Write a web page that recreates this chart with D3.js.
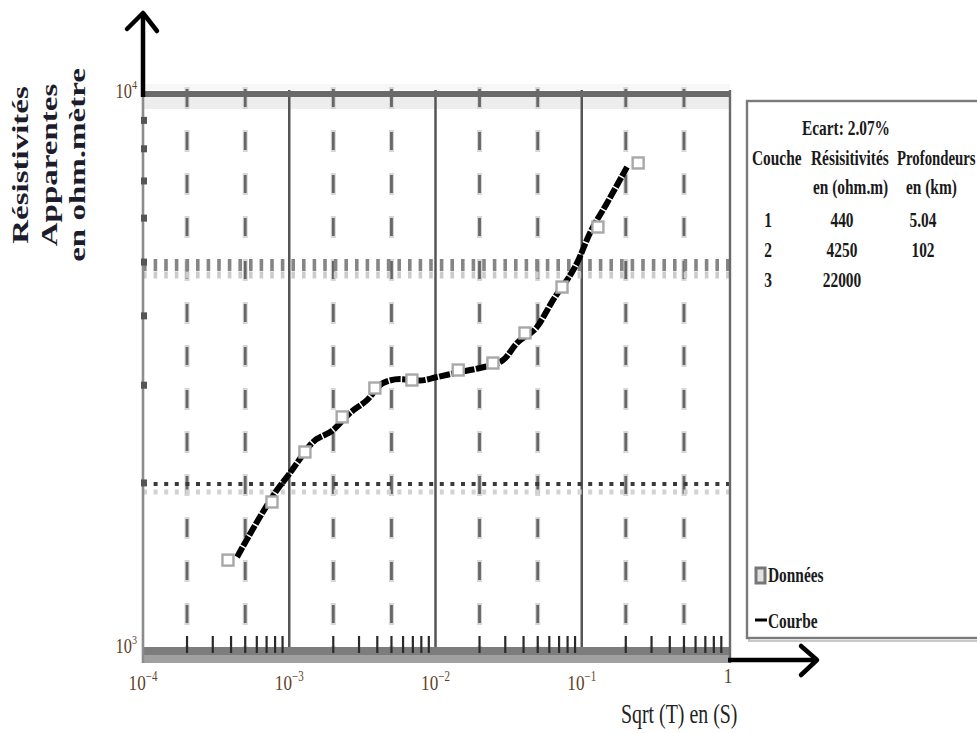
<!DOCTYPE html>
<html><head><meta charset="utf-8">
<script src="https://cdn.jsdelivr.net/npm/d3@7"></script>
<style>body{margin:0;background:#fff}svg{display:block}</style>
</head><body>
<svg id="c" width="977" height="733"></svg>
<script>
// ---- data ----
const dataX = [3.81e-4, 7.62e-4, 1.28e-3, 2.30e-3, 3.85e-3, 6.90e-3, 0.0143, 0.0247, 0.0409, 0.0733, 0.129, 0.243];
const dataY = [1452, 1848, 2274, 2630, 2965, 3065, 3195, 3289, 3726, 4508, 5783, 7543];
const curveX = [4.40e-4, 6.61e-4, 8.24e-4, 1.01e-3, 1.13e-3, 1.43e-3, 1.99e-3, 2.60e-3, 3.40e-3, 4.38e-3, 5.71e-3, 7.83e-3, 0.01023, 0.01473, 0.0201, 0.0290, 0.0361, 0.0494, 0.0636, 0.0929, 0.1138, 0.149, 0.204];
const curveY = [1471, 1773, 1942, 2084, 2172, 2360, 2490, 2673, 2820, 3027, 3077, 3060, 3103, 3170, 3222, 3330, 3574, 3819, 4270, 4983, 5640, 6390, 7418];
const xTickValues = [1e-4, 1e-3, 1e-2, 1e-1, 1];
const xTickBase = ["10", "10", "10", "10", "1"];
const xTickExp = ["\u22124", "\u22123", "\u22122", "\u22121", ""];
const yTickValues = [1e3, 1e4];
const yTickExp = ["3", "4"];
const dottedLevels = [2000, 5000];
const layers = ["1", "2", "3"];
const resistivities = ["440", "4250", "22000"];
const depths = ["5.04", "102", ""];
const ecartText = "Ecart: 2.07%";
const yTitle = ["Résistivités", "Apparentes", "en ohm.mètre"];
const xTitle = "Sqrt (T) en (S)";

// ---- drawing ----
const svg = d3.select("#c");
svg.append("rect").attr("width", 977).attr("height", 733).attr("fill", "#fff");
const x = d3.scaleLog().domain([1e-4, 1]).range([143, 728]);
const y = d3.scaleLog().domain([1e3, 1e4]).range([650, 95]);
const X0 = 143, X1 = 730;

const mant = v => Math.round(v / Math.pow(10, Math.floor(Math.log10(v) + 1e-9)));
const allX = x.ticks();

// top light bands
svg.append("rect").attr("x", X0).attr("y", 84).attr("width", X1 - X0).attr("height", 6).attr("fill", "#f7f7f7");
svg.append("rect").attr("x", X0).attr("y", 97).attr("width", X1 - X0).attr("height", 12).attr("fill", "#ededed");

// dashed verticals at 2 and 5
const dashV = allX.filter(v => { const m = mant(v); return m === 2 || m === 5; });
const g = svg.append("g");
g.selectAll(".dvu").data(dashV).join("line")
  .attr("x1", d => x(d)).attr("x2", d => x(d)).attr("y1", 87).attr("y2", 650)
  .attr("stroke", "#d6d6d6").attr("stroke-width", 5).attr("stroke-dasharray", "22,21");
g.selectAll(".dvc").data(dashV).join("line")
  .attr("x1", d => x(d)).attr("x2", d => x(d)).attr("y1", 89).attr("y2", 650)
  .attr("stroke", "#666").attr("stroke-width", 2.8).attr("stroke-dasharray", "18,25");

// solid decade lines
g.selectAll(".dec").data(xTickValues.slice(1, -1)).join("line")
  .attr("x1", d => x(d)).attr("x2", d => x(d)).attr("y1", 90).attr("y2", 650)
  .attr("stroke", "#555").attr("stroke-width", 2.5);

// horizontal dotted lines
const l5 = y(dottedLevels[1]), l2 = y(dottedLevels[0]);
svg.append("line").attr("x1", X0).attr("x2", X1).attr("y1", l5 + 3).attr("y2", l5 + 3)
  .attr("stroke", "#858585").attr("stroke-width", 12).attr("stroke-dasharray", "3.6,7");
svg.append("line").attr("x1", X0).attr("x2", X1).attr("y1", l5 + 13).attr("y2", l5 + 13)
  .attr("stroke", "#cbcbcb").attr("stroke-width", 7).attr("stroke-dasharray", "3.6,7");
svg.append("line").attr("x1", X0).attr("x2", X1).attr("y1", l2 + 1).attr("y2", l2 + 1)
  .attr("stroke", "#3a3a3a").attr("stroke-width", 4).attr("stroke-dasharray", "4,6.6");
svg.append("line").attr("x1", X0).attr("x2", X1).attr("y1", l2 + 9).attr("y2", l2 + 9)
  .attr("stroke", "#d2d2d2").attr("stroke-width", 5).attr("stroke-dasharray", "4,6.6");

// bottom band
svg.append("rect").attr("x", X0).attr("y", 647).attr("width", X1 - X0).attr("height", 8).attr("fill", "#7d7d7d");
svg.append("rect").attr("x", X0).attr("y", 655).attr("width", X1 - X0).attr("height", 8).attr("fill", "#a0a0a0");

// bottom minor ticks
svg.selectAll(".mt").data(allX.filter(v => mant(v) !== 1)).join("line")
  .attr("x1", d => x(d)).attr("x2", d => x(d)).attr("y1", 636).attr("y2", 653)
  .attr("stroke", "#2a2a2a").attr("stroke-width", 2.2);

// top dark line
svg.append("line").attr("x1", X0).attr("x2", X1).attr("y1", 94).attr("y2", 94)
  .attr("stroke", "#6a6a6a").attr("stroke-width", 6);

// left axis + minor ticks
svg.append("line").attr("x1", X0).attr("x2", X0).attr("y1", 95).attr("y2", 663)
  .attr("stroke", "#8c8c8c").attr("stroke-width", 2.6);
svg.selectAll(".yt").data(y.ticks().filter(v => v > 1e3 && v < 1e4)).join("rect")
  .attr("x", 141).attr("width", 6).attr("y", d => y(d) - 3.5).attr("height", 7).attr("fill", "#555");

// right border
svg.append("line").attr("x1", X1).attr("x2", X1).attr("y1", 90).attr("y2", 663)
  .attr("stroke", "#6a6a6a").attr("stroke-width", 2.4);

// curve
const pts = curveX.map((v, i) => [x(v), y(curveY[i])]);
svg.append("path").attr("d", d3.line().curve(d3.curveMonotoneX)(pts)).attr("fill", "none")
  .attr("stroke", "#000").attr("stroke-width", 6).attr("stroke-dasharray", "11,1.5");

// data squares
svg.selectAll(".sq").data(dataX.map((v, i) => [v, dataY[i]])).join("rect")
  .attr("x", d => x(d[0]) - 5.5).attr("y", d => y(d[1]) - 5.5).attr("width", 11).attr("height", 11)
  .attr("fill", "#fff").attr("stroke", "#a8a8a8").attr("stroke-width", 2.4);

// arrows
svg.append("line").attr("x1", X0).attr("x2", X0).attr("y1", 97).attr("y2", 14)
  .attr("stroke", "#000").attr("stroke-width", 4.5);
svg.append("polyline").attr("points", "127,29 143,13 157,31").attr("fill", "none")
  .attr("stroke", "#000").attr("stroke-width", 4.5).attr("stroke-linecap", "round").attr("stroke-linejoin", "round");
svg.append("line").attr("x1", 728).attr("x2", 817).attr("y1", 660).attr("y2", 660)
  .attr("stroke", "#000").attr("stroke-width", 4.5);
svg.append("polyline").attr("points", "801,646 817,660 801,675").attr("fill", "none")
  .attr("stroke", "#000").attr("stroke-width", 4.5).attr("stroke-linecap", "round").attr("stroke-linejoin", "round");

// x tick labels
const tickCol = "#5e3f1f";
xTickValues.forEach((v, i) => {
  const t = svg.append("text").attr("font-family", "Liberation Serif").attr("font-size", 22)
    .attr("fill", tickCol).attr("text-anchor", "middle")
    .attr("transform", `translate(${x(v)},${i === 4 ? 683 : 690}) scale(0.78,1)`);
  t.append("tspan").text(xTickBase[i]);
  if (xTickExp[i]) t.append("tspan").attr("font-size", 14).attr("dy", -9).text(xTickExp[i]);
});
// y tick labels
yTickValues.forEach((v, i) => {
  const t = svg.append("text").attr("font-family", "Liberation Serif").attr("font-size", 21)
    .attr("fill", tickCol).attr("text-anchor", "end")
    .attr("transform", `translate(137,${y(v) + (i === 0 ? 3 : 3)}) scale(0.78,1)`);
  t.append("tspan").text("10");
  t.append("tspan").attr("font-size", 13).attr("dy", -9).text(yTickExp[i]);
});

// axis titles
yTitle.forEach((s, i) => {
  svg.append("text").attr("font-family", "Liberation Serif").attr("font-weight", "bold")
    .attr("font-size", 33).attr("fill", "#1c1c2c").attr("text-anchor", "middle")
    .attr("transform", `translate(${28 + i * 28.5},165) scale(0.72,1) rotate(-90)`).text(s);
});
svg.append("text").attr("font-family", "Liberation Serif").attr("font-size", 28).attr("fill", "#222")
  .attr("transform", "translate(621,723) scale(0.71,1)").text(xTitle);

// legend box
svg.append("rect").attr("x", 749).attr("y", 103).attr("width", 260).attr("height", 538)
  .attr("fill", "none").attr("stroke", "#c8c8c8").attr("stroke-width", 2);
svg.append("rect").attr("x", 747).attr("y", 101).attr("width", 260).attr("height", 537)
  .attr("fill", "#fff").attr("stroke", "#7a7a7a").attr("stroke-width", 2.4);

const lt = (s, px, py, anchor, sx) => svg.append("text").attr("font-family", "Liberation Serif")
  .attr("font-weight", "bold").attr("font-size", 20).attr("fill", "#1a1a1a")
  .attr("text-anchor", anchor || "start")
  .attr("transform", `translate(${px},${py}) scale(${sx || 0.77},1)`).text(s);
lt(ecartText, 802, 135);
lt("Couche", 752, 165);
lt("Résisitivités", 811, 165);
lt("Profondeurs", 897, 165, "start", 0.74);
lt("en (ohm.m)", 813, 194);
lt("en (km)", 906, 194);
layers.forEach((s, i) => {
  const py = 227 + i * 30;
  lt(s, 768, py, "middle");
  lt(resistivities[i], 842, py, "middle");
  if (depths[i]) lt(depths[i], 923, py, "middle");
});
// legend symbols
svg.append("rect").attr("x", 756).attr("y", 568).attr("width", 9).attr("height", 15)
  .attr("fill", "#e2e2e2").attr("stroke", "#777").attr("stroke-width", 3);
lt("Données", 768, 582);
svg.append("line").attr("x1", 755).attr("x2", 767).attr("y1", 620).attr("y2", 620)
  .attr("stroke", "#000").attr("stroke-width", 3);
lt("Courbe", 768, 628);
</script>
</body></html>
